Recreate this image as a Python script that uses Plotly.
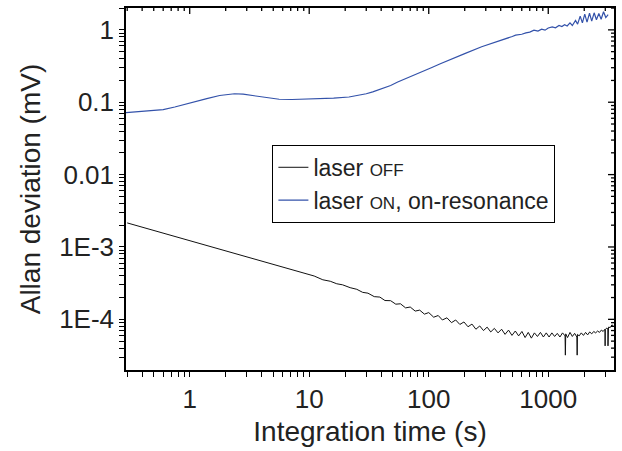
import plotly.graph_objects as go

# ---- data ----
t_off = [0.3, 0.35, 0.4, 0.5, 0.6, 0.7, 0.8, 1.0, 1.2, 1.5, 1.8, 2.2, 2.7, 3.3, 4.0, 5.0, 6.0, 7.0, 8.0, 9.5,
         11, 13, 15, 17, 19, 22, 25, 28, 31, 35, 39, 43, 48, 53, 58, 64, 70, 77, 84, 92,
         100, 110, 120, 130, 142, 155, 168, 182, 197, 213, 230, 248, 267, 287, 308, 330, 354, 380, 407, 435,
         465, 497, 530, 565, 602, 640, 680, 722, 766, 812, 860, 910, 962, 1016, 1072, 1130, 1190, 1252, 1316, 1382,
         1390, 1400, 1450, 1520, 1590, 1662, 1736, 1745, 1755, 1812, 1890, 1970, 2052, 2136, 2222, 2310, 2400, 2492,
         2586, 2682, 2780, 2880, 2982, 2990, 3000, 3086, 3150, 3160, 3192, 3300, 3410, 3500]
sigma_off = [2.15e-3, 2.00e-3, 1.87e-3, 1.69e-3, 1.55e-3, 1.44e-3, 1.355e-3, 1.22e-3, 1.12e-3, 1.005e-3,
             9.27e-4, 8.40e-4, 7.66e-4, 6.93e-4, 6.38e-4, 5.70e-4, 5.28e-4, 4.86e-4, 4.61e-4, 4.20e-4,
             3.97e-4, 3.52e-4, 3.36e-4, 3.10e-4, 3.00e-4, 2.74e-4, 2.60e-4, 2.36e-4, 2.30e-4, 2.06e-4,
             2.03e-4, 1.82e-4, 1.81e-4, 1.62e-4, 1.64e-4, 1.44e-4, 1.48e-4, 1.30e-4, 1.34e-4, 1.18e-4,
             1.24e-4, 1.07e-4, 1.13e-4, 9.8e-5, 1.05e-4, 9.0e-5, 9.8e-5, 8.5e-5, 9.2e-5, 7.9e-5,
             8.6e-5, 7.3e-5, 8.1e-5, 7.0e-5, 7.8e-5, 6.7e-5, 7.5e-5, 6.5e-5, 7.3e-5, 6.2e-5,
             7.1e-5, 6.0e-5, 6.9e-5, 5.9e-5, 6.8e-5, 5.6e-5, 6.6e-5, 5.5e-5, 6.5e-5, 5.8e-5,
             6.6e-5, 5.7e-5, 6.5e-5, 5.7e-5, 6.5e-5, 5.8e-5, 6.4e-5, 5.7e-5, 6.5e-5, 5.9e-5,
             3.2e-5, 6.3e-5, 5.6e-5, 6.6e-5, 5.8e-5, 6.4e-5, 5.7e-5, 3.2e-5, 6.2e-5, 5.9e-5,
             6.5e-5, 6.0e-5, 6.6e-5, 6.1e-5, 6.7e-5, 6.3e-5, 6.8e-5, 6.5e-5, 6.9e-5, 6.6e-5,
             7.1e-5, 6.8e-5, 7.3e-5, 4.3e-5, 7.2e-5, 7.6e-5, 7.4e-5, 4.3e-5, 7.8e-5, 7.7e-5,
             8.4e-5, 8.1e-5]

t_on = [0.293, 0.35, 0.45, 0.6, 0.75, 0.94, 1.15, 1.39, 1.78, 2.1, 2.37, 2.8, 3.35, 4.4, 5.6, 7.2, 9, 12,
        16, 21.5, 26, 30, 34, 40.5, 48, 55, 65, 78, 90, 105, 125, 147, 200, 277, 330, 380, 440, 500, 533,
        600, 650, 700, 760, 820, 880, 940, 1000, 1080, 1150, 1230, 1300, 1370, 1440, 1520, 1590, 1690,
        1760, 1850, 1930, 2020, 2110, 2214, 2310, 2420, 2530, 2650, 2770, 2900, 3030, 3170]
sigma_on = [0.072, 0.0735, 0.0755, 0.079, 0.086, 0.094, 0.103, 0.112, 0.124, 0.129, 0.131, 0.129, 0.124,
            0.114, 0.110, 0.109, 0.110, 0.112, 0.114, 0.118, 0.124, 0.131, 0.139, 0.153, 0.17, 0.19, 0.213,
            0.239, 0.268, 0.30, 0.34, 0.383, 0.47, 0.584, 0.64, 0.70, 0.76, 0.81, 0.845, 0.87, 0.91, 0.93,
            0.99, 0.96, 1.02, 0.99, 1.06, 1.10, 1.07, 1.15, 1.11, 1.18, 1.13, 1.25, 1.15, 1.35, 1.20, 1.55,
            1.25, 1.65, 1.28, 1.70, 1.32, 1.72, 1.38, 1.68, 1.40, 1.78, 1.48, 1.62]

x_major = [1, 10, 100, 1000]
x_major_text = ["1", "10", "100", "1000"]
y_major = [1e-4, 1e-3, 1e-2, 1e-1, 1]
y_major_text = ["1E-4", "1E-3", "0.01", "0.1", "1"]
x_minor = [0.3, 0.4, 0.5, 0.6, 0.7, 0.8, 0.9, 2, 3, 4, 5, 6, 7, 8, 9, 20, 30, 40, 50, 60, 70, 80, 90,
           200, 300, 400, 500, 600, 700, 800, 900, 2000, 3000]
y_minor = [3e-5, 4e-5, 5e-5, 6e-5, 7e-5, 8e-5, 9e-5, 2e-4, 3e-4, 4e-4, 5e-4, 6e-4, 7e-4, 8e-4, 9e-4,
           2e-3, 3e-3, 4e-3, 5e-3, 6e-3, 7e-3, 8e-3, 9e-3, 0.02, 0.03, 0.04, 0.05, 0.06, 0.07, 0.08, 0.09,
           0.2, 0.3, 0.4, 0.5, 0.6, 0.7, 0.8, 0.9, 2]

X_RANGE = [-0.533, 3.55]
Y_RANGE = [-4.70, 0.302]
FONT = "Arial, Liberation Sans, sans-serif"
PLOT_W, PLOT_H = 490, 364

fig = go.Figure()
fig.add_trace(go.Scatter(x=t_off, y=sigma_off, mode="lines", name="laser <span style='font-size:17px'>OFF</span>",
                         line=dict(color="#111111", width=1)))
fig.add_trace(go.Scatter(x=t_on, y=sigma_on, mode="lines",
                         name="laser <span style='font-size:17px'>ON</span>, on-resonance",
                         line=dict(color="#3352aa", width=1.2)))

# inward ticks on the top and right frame edges, at the same tick values
shapes = []
for v, ln in [(v, 6) for v in x_major] + [(v, 3) for v in x_minor]:
    shapes.append(dict(type="line", xref="x", yref="paper", x0=v, x1=v, y0=1, y1=1 - ln / PLOT_H,
                       line=dict(color="black", width=1.3)))
for v, ln in [(v, 6) for v in y_major] + [(v, 3) for v in y_minor]:
    shapes.append(dict(type="line", xref="paper", yref="y", x0=1, x1=1 - ln / PLOT_W, y0=v, y1=v,
                       line=dict(color="black", width=1.3)))

fig.update_layout(
    width=622, height=451,
    margin=dict(l=126, r=6, t=6, b=81),
    paper_bgcolor="white", plot_bgcolor="white",
    font=dict(family=FONT, color="#222222"),
    xaxis=dict(type="log", range=X_RANGE, showgrid=False, zeroline=False,
               showline=True, mirror=True, linecolor="black", linewidth=1.5,
               tickmode="array", tickvals=x_major + x_minor,
               ticktext=x_major_text + [""] * len(x_minor),
               ticks="outside", ticklen=5, tickwidth=1.3, tickcolor="black",
               tickfont=dict(size=26),
               title=dict(text="Integration time (s)", font=dict(size=28), standoff=8)),
    yaxis=dict(type="log", range=Y_RANGE, showgrid=False, zeroline=False,
               showline=True, mirror=True, linecolor="black", linewidth=1.5,
               tickmode="array", tickvals=y_major + y_minor,
               ticktext=y_major_text + [""] * len(y_minor),
               ticks="outside", ticklen=5, tickwidth=1.3, tickcolor="black",
               tickfont=dict(size=26),
               title=dict(text="Allan deviation (mV)", font=dict(size=28), standoff=10)),
    shapes=shapes,
    legend=dict(x=0.30, y=0.622, xanchor="left", yanchor="top", bgcolor="white",
                bordercolor="black", borderwidth=1, font=dict(size=23, color="#222222"),
                tracegroupgap=0),
    showlegend=True,
)

fig.write_html("out.html")
